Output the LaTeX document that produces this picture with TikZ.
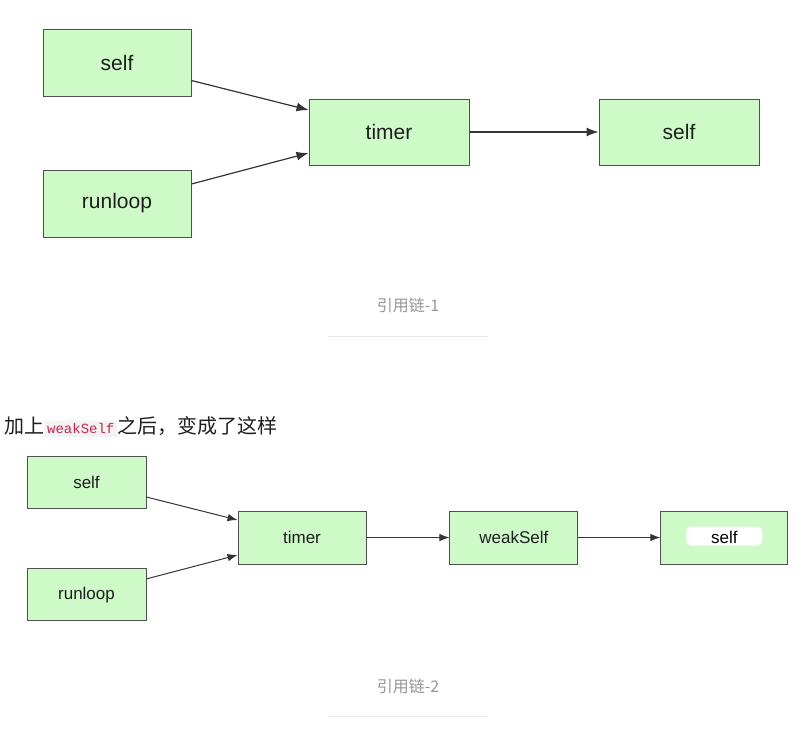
\documentclass[tikz,border=0pt]{standalone}
\usepackage{fontspec}
\setmainfont{Liberation Sans}
\setmonofont{Liberation Mono}
\newfontfamily\cjk{Noto Sans CJK SC}
\usepackage{tikz}
\usetikzlibrary{arrows.meta,positioning}
\definecolor{cfill}{RGB}{206,250,200}
\definecolor{cedge}{RGB}{80,80,80}
\definecolor{ctext}{RGB}{30,30,30}
\definecolor{ccap}{RGB}{150,150,150}
\definecolor{crule}{RGB}{232,232,232}
\definecolor{codebg}{RGB}{243,243,243}
\definecolor{codefg}{RGB}{199,37,78}
\tikzset{
  objbig/.style={
    rectangle, fill=cfill, draw=cedge, line width=1pt,
    minimum width=148pt, minimum height=67pt,
    font=\fontsize{21}{24}\selectfont, text=ctext
  },
  objsmall/.style={
    rectangle, fill=cfill, draw=cedge, line width=0.9pt,
    minimum width=119pt, minimum height=52pt,
    font=\fontsize{17}{20}\selectfont, text=ctext
  },
  caption/.style={font=\cjk\fontsize{16}{19}\selectfont, text=ccap},
  ref/.style={-{Latex[length=12pt,width=9pt]}, line width=1.2pt, color=ctext!90},
  refs/.style={-{Latex[length=10pt,width=7.5pt]}, line width=1pt, color=ctext!90}
}
\begin{document}
\begin{tikzpicture}[x=1pt,y=-1pt]
  \useasboundingbox[fill=white] (0,0) rectangle (803,740);

  %% ---- chain 1 ---------------------------------------------------
  \node[objbig] (self1) at (117,62.5) {self};
  \node[objbig, below=73pt of self1] (loop1) {runloop};
  \node[objbig, minimum width=160pt, minimum height=66pt] (timer1) at (389,132) {timer};
  \node[objbig, minimum width=160pt, minimum height=66pt, right=129pt of timer1] (tgt1) {self};

  \draw[ref] ([yshift=-18pt]self1.east) -- ([yshift=22pt]timer1.west);
  \draw[ref] ([yshift=19.5pt]loop1.east) -- ([yshift=-21pt]timer1.west);
  \draw[ref] (timer1) -- (tgt1);

  \node[caption] (cap1) at (408,305) {引用链-1};
  \draw[crule, line width=0.8pt] (328,336) -- (488,336);

  %% ---- text --------------------------------------------------------
  \node[anchor=west, inner sep=0pt, text=ctext,
        font=\cjk\fontsize{20}{24}\selectfont] (intro) at (4,427)
    {加上{\setlength{\fboxsep}{3pt}\colorbox{codebg}{\ttfamily\fontsize{14}{16}\selectfont\color{codefg}weakSelf}}之后，变成了这样};

  %% ---- chain 2 ---------------------------------------------------
  \node[objsmall] (self2) at (86.5,482) {self};
  \node[objsmall, below=60pt of self2] (loop2) {runloop};
  \node[objsmall, minimum width=128pt, minimum height=53pt] (timer2) at (302,537.5) {timer};
  \node[objsmall, minimum width=128pt, minimum height=53pt, right=83pt of timer2] (weak) {weakSelf};
  \node[objsmall, minimum width=127pt, minimum height=53pt, right=82pt of weak,
        path picture={\fill[white, rounded corners=5pt]
          ([xshift=-38pt,yshift=-8pt]path picture bounding box.center) rectangle
          ([xshift=38pt,yshift=11pt]path picture bounding box.center);}] (tgt2)
    {\color{black}self};

  \draw[refs] ([yshift=-15pt]self2.east) -- ([yshift=17.5pt]timer2.west);
  \draw[refs] ([yshift=16pt]loop2.east) -- ([yshift=-17.5pt]timer2.west);
  \draw[refs] (timer2) -- (weak);
  \draw[refs] (weak) -- (tgt2);

  \node[caption] (cap2) at (408,686) {引用链-2};
  \draw[crule, line width=0.8pt] (328,716) -- (488,716);
\end{tikzpicture}
\end{document}
